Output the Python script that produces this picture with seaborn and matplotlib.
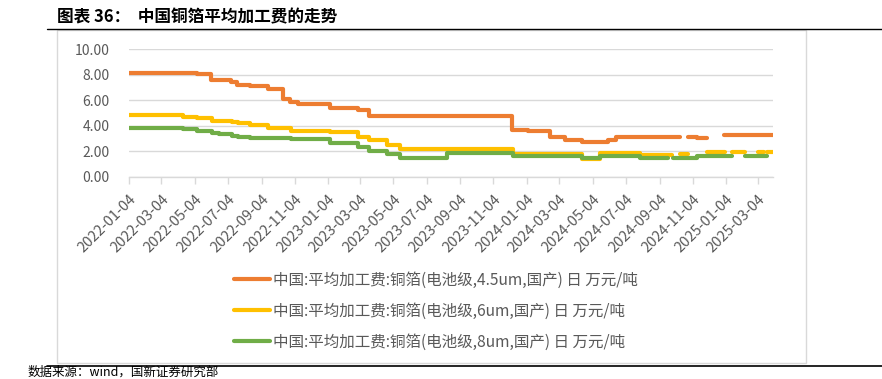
import numpy as np
import pandas as pd
import matplotlib
matplotlib.use("Agg")
import matplotlib.pyplot as plt
import matplotlib.dates as mdates
from matplotlib.lines import Line2D
from matplotlib.patches import Rectangle
import seaborn as sns

# 阶梯数据：变动日期 + 数值（nan 表示缺失段）
end_date = '2025-04-01'

dates_45 = ['2022-01-04', '2022-05-08', '2022-06-03', '2022-07-10', '2022-07-21',
            '2022-08-14', '2022-09-16', '2022-10-13', '2022-10-26', '2022-11-09',
            '2023-01-08', '2023-03-01', '2023-03-21', '2023-12-08', '2024-01-07',
            '2024-02-16', '2024-03-15', '2024-04-14', '2024-06-01', '2024-06-16',
            '2024-10-12', '2024-10-27', '2024-11-12', '2024-12-01', '2024-12-31']
fee_45 = [8.15, 8.05, 7.6, 7.4, 7.2,
          7.1, 6.9, 6.1, 5.9, 5.7,
          5.4, 5.2, 4.8, 3.7, 3.55,
          3.1, 2.9, 2.7, 2.9, 3.1,
          np.nan, 3.1, 3.0, np.nan, 3.25]

dates_6 = ['2022-01-04', '2022-04-12', '2022-05-09', '2022-06-04', '2022-07-11',
           '2022-07-23', '2022-08-14', '2022-09-16', '2022-10-28', '2023-01-08',
           '2023-03-01', '2023-03-21', '2023-04-22', '2023-05-17', '2023-12-09',
           '2024-04-15', '2024-05-18', '2024-07-31', '2024-09-27', '2024-10-12',
           '2024-10-27', '2024-12-01', '2025-01-03', '2025-01-16', '2025-02-08',
           '2025-03-03', '2025-03-14', '2025-03-21']
fee_6 = [4.85, 4.7, 4.6, 4.4, 4.3,
         4.2, 4.05, 3.8, 3.6, 3.5,
         3.1, 2.9, 2.45, 2.2, 1.75,
         1.4, 1.85, 1.7, np.nan, 1.75,
         np.nan, 1.9, np.nan, 1.9, np.nan,
         1.9, np.nan, 1.9]

dates_8 = ['2022-01-04', '2022-04-12', '2022-05-09', '2022-06-04', '2022-06-17',
           '2022-07-11', '2022-07-23', '2022-08-14', '2022-10-28', '2023-01-08',
           '2023-03-01', '2023-03-21', '2023-04-22', '2023-05-17', '2023-08-10',
           '2023-12-09', '2024-04-15', '2024-05-18', '2024-07-31', '2024-09-20',
           '2024-09-29', '2024-11-12', '2025-01-16', '2025-02-08', '2025-03-21']
fee_8 = [3.85, 3.75, 3.6, 3.4, 3.35,
         3.2, 3.15, 3.05, 2.95, 2.65,
         2.35, 2.05, 1.75, 1.5, 1.85,
         1.6, 1.5, 1.6, 1.45, np.nan,
         1.45, 1.65, np.nan, 1.65, np.nan]

labels = ['中国:平均加工费:铜箔(电池级,4.5um,国产) 日 万元/吨',
          '中国:平均加工费:铜箔(电池级,6um,国产) 日 万元/吨',
          '中国:平均加工费:铜箔(电池级,8um,国产) 日 万元/吨']
colors = ['#ED7D31', '#FFC000', '#70AD47']

title = '图表 36：  中国铜箔平均加工费的走势'
source = '数据来源：wind，国新证券研究部'


def split_segments(dates, vals, end):
    """把阶梯数据按缺失值拆成连续段"""
    d = list(pd.to_datetime(dates + [end]))
    segs, xs, ys = [], [], []
    for i, v in enumerate(vals):
        if np.isnan(v):
            if xs:
                xs.append(d[i]); ys.append(ys[-1])
                segs.append((xs, ys))
            xs, ys = [], []
        else:
            xs.append(d[i]); ys.append(v)
    if xs:
        xs.append(d[-1]); ys.append(ys[-1])
        segs.append((xs, ys))
    return segs


sns.set_theme(style='white')
plt.rcParams['font.family'] = ['Noto Sans CJK SC', 'DejaVu Sans']
plt.rcParams['axes.unicode_minus'] = False

W, H = 882, 379
fig = plt.figure(figsize=(W / 100, H / 100), dpi=100)
ax = fig.add_axes([129.3 / W, 1 - 176.7 / H, (773.3 - 129.3) / W, (176.7 - 49.3) / H])

gray = '#595959'
grid = '#D9D9D9'

for dates, vals, c in zip([dates_45, dates_6, dates_8], [fee_45, fee_6, fee_8], colors):
    for xs, ys in split_segments(dates, vals, end_date):
        sns.lineplot(x=xs, y=ys, ax=ax, color=c, lw=3.0, drawstyle='steps-post',
                     solid_capstyle='round', solid_joinstyle='round', sort=False,
                     estimator=None)

ax.set_ylim(0, 10)
ax.set_xlim(pd.Timestamp('2022-01-04'), pd.Timestamp(end_date))
ax.set_yticks(np.arange(0, 10.1, 2))
ax.yaxis.set_major_formatter(matplotlib.ticker.FormatStrFormatter('%.2f'))

xticks = pd.date_range('2022-01-01', periods=20, freq='2MS') + pd.Timedelta(days=3)
ax.set_xticks(xticks)
ax.xaxis.set_major_formatter(mdates.DateFormatter('%Y-%m-%d'))
ax.set_xlabel('')
ax.set_ylabel('')

ax.yaxis.grid(True, color=grid, lw=1)
ax.xaxis.grid(False)
ax.set_axisbelow(True)
for s in ['top', 'right', 'left']:
    ax.spines[s].set_visible(False)
ax.spines['bottom'].set_color(grid)
ax.spines['bottom'].set_linewidth(1)
ax.tick_params(axis='y', length=0, pad=14, labelsize=10, labelcolor=gray)
ax.tick_params(axis='x', length=5, width=1, color=grid, direction='out',
               pad=6, labelsize=10.5, labelcolor=gray, bottom=True)
for lab in ax.get_xticklabels():
    lab.set_rotation(45)
    lab.set_ha('right')
    lab.set_rotation_mode('anchor')

# 图例
handles = [Line2D([0], [0], color=c, lw=3.0, solid_capstyle='round') for c in colors]
fig.legend(handles, labels, loc='center', bbox_to_anchor=(436 / W, 1 - 311 / H),
           ncol=1, frameon=False, fontsize=11.2, labelcolor=gray,
           handlelength=2.35, handletextpad=0.2, labelspacing=0.9)

# 外框、标题与分隔线
fig.add_artist(Rectangle((57 / W, 1 - 363 / H), (806 - 57) / W, (363 - 30) / H,
                         transform=fig.transFigure, fill=False, ec=grid, lw=1))
fig.add_artist(Line2D([47 / W, 1], [1 - 28.5 / H] * 2, transform=fig.transFigure,
                      color='black', lw=1))
fig.add_artist(Line2D([47 / W, 1], [1 - 365.5 / H] * 2, transform=fig.transFigure,
                      color='black', lw=1.2))
fig.text(57 / W, 1 - 17 / H, title, fontsize=12, fontweight='bold', color='black',
         va='center', ha='left')
fig.text(28 / W, 1 - 378.5 / H, source, fontsize=9, color='black', va='bottom', ha='left')

fig.savefig('out.png', dpi=100)
